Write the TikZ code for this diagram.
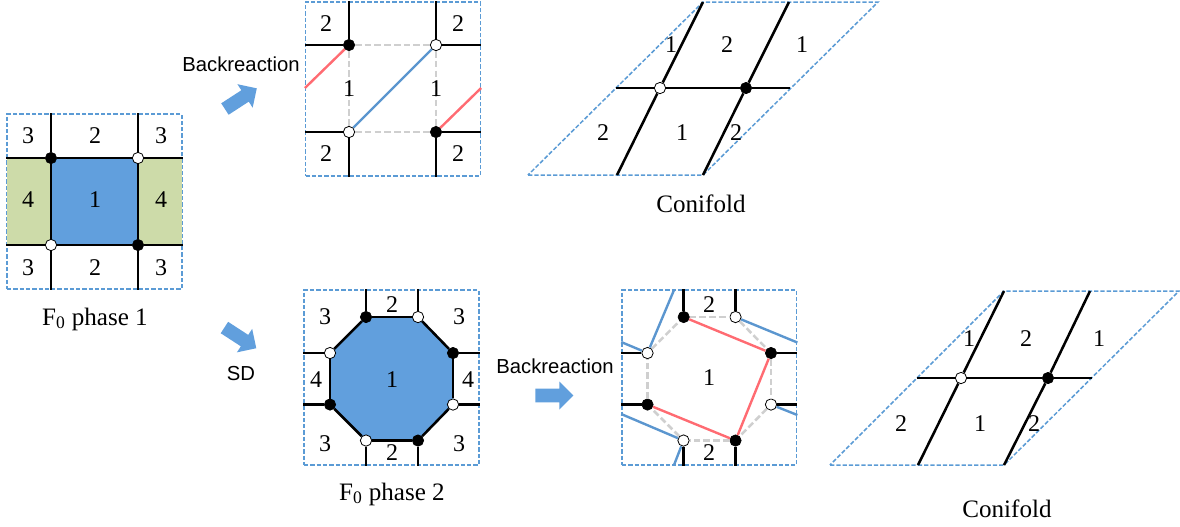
\documentclass[tikz,border=0pt]{standalone}
\usepackage{fontspec}
\setmainfont{Liberation Serif}
\setsansfont{Liberation Sans}
\usepackage{xcolor}
\usepackage{tikz}
\usetikzlibrary{shapes.arrows, backgrounds, calc}
\definecolor{dashblue}{HTML}{5B9BD5}
\definecolor{faceblue}{HTML}{619FDD}
\definecolor{facegreen}{HTML}{CDDBA9}
\definecolor{linered}{HTML}{FF6B72}
\definecolor{lineblue}{HTML}{5B96CF}
\definecolor{linegray}{HTML}{CFCFCF}

\begin{document}
\begin{tikzpicture}[
  x=0.75pt, y=-0.75pt, font=\fontsize{18}{20}\selectfont,
  frame/.style={rectangle, draw=dashblue, line width=1.15pt, dash pattern=on 3.2pt off 1.5pt,
                minimum width=131pt, minimum height=131pt, inner sep=0pt},
  slant/.style={draw=dashblue, line width=1.15pt, dash pattern=on 3.2pt off 1.5pt},
  blackv/.style={circle, fill=black, draw=black, line width=0.5pt, minimum size=8.5pt, inner sep=0pt},
  whitev/.style={circle, fill=white, draw=black, line width=0.6pt, minimum size=8.5pt, inner sep=0pt},
  edge/.style={draw=black, line width=1.9pt},
  redge/.style={draw=linered, line width=1.8pt},
  bedge/.style={draw=lineblue, line width=1.8pt},
  gedge/.style={draw=linegray, line width=1.9pt, dash pattern=on 5pt off 2.3pt},
  lab/.style={inner sep=0pt},
  caption/.style={font=\fontsize{18.8}{20}\selectfont, inner sep=0pt},
  sans/.style={font=\fontsize{15.2}{18}\selectfont\sffamily, inner sep=0pt},
  fat/.style={single arrow, fill=faceblue, draw=none, minimum height=28.5pt, minimum width=20.5pt,
              single arrow head extend=5.4pt, inner sep=4.9pt}]

  % F0 phase 1
  \node[frame] (fa) at (94.5,200.5) {};
  \node[rectangle, fill=facegreen, minimum width=32.5pt, minimum height=65pt, inner sep=0pt] (gl) at (29,200.5) {};
  \node[rectangle, fill=facegreen, minimum width=32.5pt, minimum height=65pt, inner sep=0pt] (gr) at (160,200.5) {};
  \node[rectangle, fill=faceblue, minimum width=65pt, minimum height=65pt, inner sep=0pt] (fc) at (94.5,200.5) {};
  \node[blackv] (a1) at (51,157) {};
  \node[whitev] (a2) at (138,157) {};
  \node[whitev] (a3) at (51,244) {};
  \node[blackv] (a4) at (138,244) {};
  \draw[edge] (a1) -- (a2);
  \draw[edge] (a3) -- (a4);
  \draw[edge] (a1) -- (a3);
  \draw[edge] (a2) -- (a4);
  \draw[edge] (a1) -- (a1 |- fa.north);
  \draw[edge] (a2) -- (a2 |- fa.north);
  \draw[edge] (a3) -- (a3 |- fa.south);
  \draw[edge] (a4) -- (a4 |- fa.south);
  \draw[edge] (a1) -- (a1 -| fa.west);
  \draw[edge] (a3) -- (a3 -| fa.west);
  \draw[edge] (a2) -- (a2 -| fa.east);
  \draw[edge] (a4) -- (a4 -| fa.east);
  \node[lab] at (28,135) {3};
  \node[lab] at (95,135) {2};
  \node[lab] at (161,135) {3};
  \node[lab] at (28,199) {4};
  \node[lab] at (95,199) {1};
  \node[lab] at (161,199) {4};
  \node[lab] at (28,267) {3};
  \node[lab] at (95,267) {2};
  \node[lab] at (161,267) {3};
  \node[caption] (capa) at (95,318) {F\textsubscript{0} phase 1};

  % arrows out of phase 1
  \node[fat, rotate=33] (up) at (238,99.5) {};
  \node[fat, rotate=-33] (dn) at (237.5,335) {};
  \node[sans] (back1) at (241,63) {Backreaction};
  \node[sans] (sd) at (241,372) {SD};

  % backreaction, top
  \node[frame, minimum width=131pt, minimum height=130.5pt] (fb) at (393,88) {};
  \node[blackv] (b1) at (349,44) {};
  \node[whitev] (b2) at (436,44) {};
  \node[whitev] (b3) at (349,131) {};
  \node[blackv] (b4) at (436,131) {};
  \coordinate (b5) at (fb.west |- 0,87);
  \coordinate (b6) at (fb.east |- 0,87);
  \draw[gedge] (b1) -- (b2);
  \draw[gedge] (b3) -- (b4);
  \draw[gedge] (b1) -- (b3);
  \draw[gedge] (b2) -- (b4);
  \draw[bedge] (b3) -- (b2);
  \draw[redge] (b1) -- (b5);
  \draw[redge] (b4) -- (b6);
  \draw[edge] (b1) -- (b1 |- fb.north);
  \draw[edge] (b2) -- (b2 |- fb.north);
  \draw[edge] (b3) -- (b3 |- fb.south);
  \draw[edge] (b4) -- (b4 |- fb.south);
  \draw[edge] (b1) -- (b1 -| fb.west);
  \draw[edge] (b3) -- (b3 -| fb.west);
  \draw[edge] (b2) -- (b2 -| fb.east);
  \draw[edge] (b4) -- (b4 -| fb.east);
  \node[lab] at (326,23) {2};
  \node[lab] at (458,23) {2};
  \node[lab] at (326,153) {2};
  \node[lab] at (458,153) {2};
  \node[lab] at (349,88) {1};
  \node[lab] at (436,88) {1};

  % conifold, top
  \coordinate (c1) at (528,174);
  \coordinate (c2) at (703,174);
  \coordinate (c3) at (878,1);
  \coordinate (c4) at (703,1);
  \coordinate (c5) at (617,174);
  \coordinate (c6) at (789,1);
  \coordinate (c7) at (616,87);
  \coordinate (c8) at (790,87);
  \node[whitev] (c9) at (660,87) {};
  \node[blackv] (c10) at (746,87) {};
  \draw[slant] (c1) -- (c2) -- (c3) -- (c4) -- cycle;
  \draw[edge] (c5) -- (c9);
  \draw[edge] (c9) -- (c4);
  \draw[edge] (c2) -- (c10);
  \draw[edge] (c10) -- (c6);
  \draw[edge] (c7) -- (c9);
  \draw[edge] (c9) -- (c10);
  \draw[edge] (c10) -- (c8);
  \node[lab] at (671,44) {1};
  \node[lab] at (727,44) {2};
  \node[lab] at (802,44) {1};
  \node[lab] at (603,132) {2};
  \node[lab] at (682,132) {1};
  \node[lab] at (736,132) {2};
  \node[caption] (capc) at (701,203) {Conifold};

  % F0 phase 2
  \node[frame] (fd) at (391.5,376.5) {};
  \node[blackv] (d1) at (366,316) {};
  \node[whitev] (d2) at (418,316) {};
  \node[blackv] (d3) at (453,352) {};
  \node[whitev] (d4) at (453,403.5) {};
  \node[blackv] (d5) at (418,439.5) {};
  \node[whitev] (d6) at (366,439.5) {};
  \node[blackv] (d7) at (330,403.5) {};
  \node[whitev] (d8) at (330,352) {};
  \begin{scope}[on background layer]
    \fill[faceblue] (d1.center) -- (d2.center) -- (d3.center) -- (d4.center)
      -- (d5.center) -- (d6.center) -- (d7.center) -- (d8.center) -- cycle;
  \end{scope}
  \draw[edge] (d1) -- (d2);
  \draw[edge] (d2) -- (d3);
  \draw[edge] (d3) -- (d4);
  \draw[edge] (d4) -- (d5);
  \draw[edge] (d5) -- (d6);
  \draw[edge] (d6) -- (d7);
  \draw[edge] (d7) -- (d8);
  \draw[edge] (d8) -- (d1);
  \draw[edge] (d1) -- (d1 |- fd.north);
  \draw[edge] (d2) -- (d2 |- fd.north);
  \draw[edge] (d6) -- (d6 |- fd.south);
  \draw[edge] (d5) -- (d5 |- fd.south);
  \draw[edge] (d8) -- (d8 -| fd.west);
  \draw[edge] (d7) -- (d7 -| fd.west);
  \draw[edge] (d3) -- (d3 -| fd.east);
  \draw[edge] (d4) -- (d4 -| fd.east);
  \node[lab] at (392,304) {2};
  \node[lab] at (325,316) {3};
  \node[lab] at (459,316) {3};
  \node[lab] at (316,379) {4};
  \node[lab] at (392,379) {1};
  \node[lab] at (468,379) {4};
  \node[lab] at (325,443) {3};
  \node[lab] at (459,443) {3};
  \node[lab] at (392,452) {2};
  \node[caption] (capd) at (392,493) {F\textsubscript{0} phase 2};

  % backreaction, bottom
  \node[sans] (back2) at (555,365) {Backreaction};
  \node[fat] (rt) at (551,394.5) {};
  \node[frame] (fe) at (709.3,376.5) {};
  \node[blackv] (e1) at (683.7,316) {};
  \node[whitev] (e2) at (735.5,316) {};
  \node[blackv] (e3) at (771,352) {};
  \node[whitev] (e4) at (771,403.5) {};
  \node[blackv] (e5) at (735.5,439.5) {};
  \node[whitev] (e6) at (683.5,439.5) {};
  \node[blackv] (e7) at (647.5,403.5) {};
  \node[whitev] (e8) at (647.5,352) {};
  \coordinate (e9) at (674,289);
  \coordinate (e10) at (fe.west |- 0,341);
  \coordinate (e11) at (fe.east |- 0,341.5);
  \coordinate (e12) at (fe.east |- 0,414);
  \coordinate (e13) at (fe.west |- 0,413);
  \coordinate (e14) at (674,464);
  \draw[gedge] (e1) -- (e2);
  \draw[gedge] (e2) -- (e3);
  \draw[gedge] (e3) -- (e4);
  \draw[gedge] (e4) -- (e5);
  \draw[gedge] (e5) -- (e6);
  \draw[gedge] (e6) -- (e7);
  \draw[gedge] (e7) -- (e8);
  \draw[gedge] (e8) -- (e1);
  \draw[redge] (e1) -- (e3);
  \draw[redge] (e3) -- (e5);
  \draw[redge] (e5) -- (e7);
  \draw[bedge] (e8) -- (e9);
  \draw[bedge] (e8) -- (e10);
  \draw[bedge] (e2) -- (e11);
  \draw[bedge] (e4) -- (e12);
  \draw[bedge] (e6) -- (e13);
  \draw[bedge] (e6) -- (e14);
  \draw[edge] (e1) -- (e1 |- fe.north);
  \draw[edge] (e2) -- (e2 |- fe.north);
  \draw[edge] (e6) -- (e6 |- fe.south);
  \draw[edge] (e5) -- (e5 |- fe.south);
  \draw[edge] (e8) -- (e8 -| fe.west);
  \draw[edge] (e7) -- (e7 -| fe.west);
  \draw[edge] (e3) -- (e3 -| fe.east);
  \draw[edge] (e4) -- (e4 -| fe.east);
  \node[lab] at (709,304) {2};
  \node[lab] at (709,377) {1};
  \node[lab] at (709,452) {2};

  % conifold, bottom
  \coordinate (g1) at (830,464);
  \coordinate (g2) at (1004,464);
  \coordinate (g3) at (1179,290);
  \coordinate (g4) at (1004,290);
  \coordinate (g5) at (918,464);
  \coordinate (g6) at (1090,290);
  \coordinate (g7) at (917,377);
  \coordinate (g8) at (1092,377);
  \node[whitev] (g9) at (961,377) {};
  \node[blackv] (g10) at (1048,377) {};
  \draw[slant] (g1) -- (g2) -- (g3) -- (g4) -- cycle;
  \draw[edge] (g5) -- (g9);
  \draw[edge] (g9) -- (g4);
  \draw[edge] (g2) -- (g10);
  \draw[edge] (g10) -- (g6);
  \draw[edge] (g7) -- (g9);
  \draw[edge] (g9) -- (g10);
  \draw[edge] (g10) -- (g8);
  \node[lab] at (969,338) {1};
  \node[lab] at (1026,338) {2};
  \node[lab] at (1099,338) {1};
  \node[lab] at (901,423) {2};
  \node[lab] at (980,423) {1};
  \node[lab] at (1034,423) {2};
  \node[caption] (capg) at (1007,508) {Conifold};

  \useasboundingbox (0,0) rectangle (1180,525);
\end{tikzpicture}
\end{document}
